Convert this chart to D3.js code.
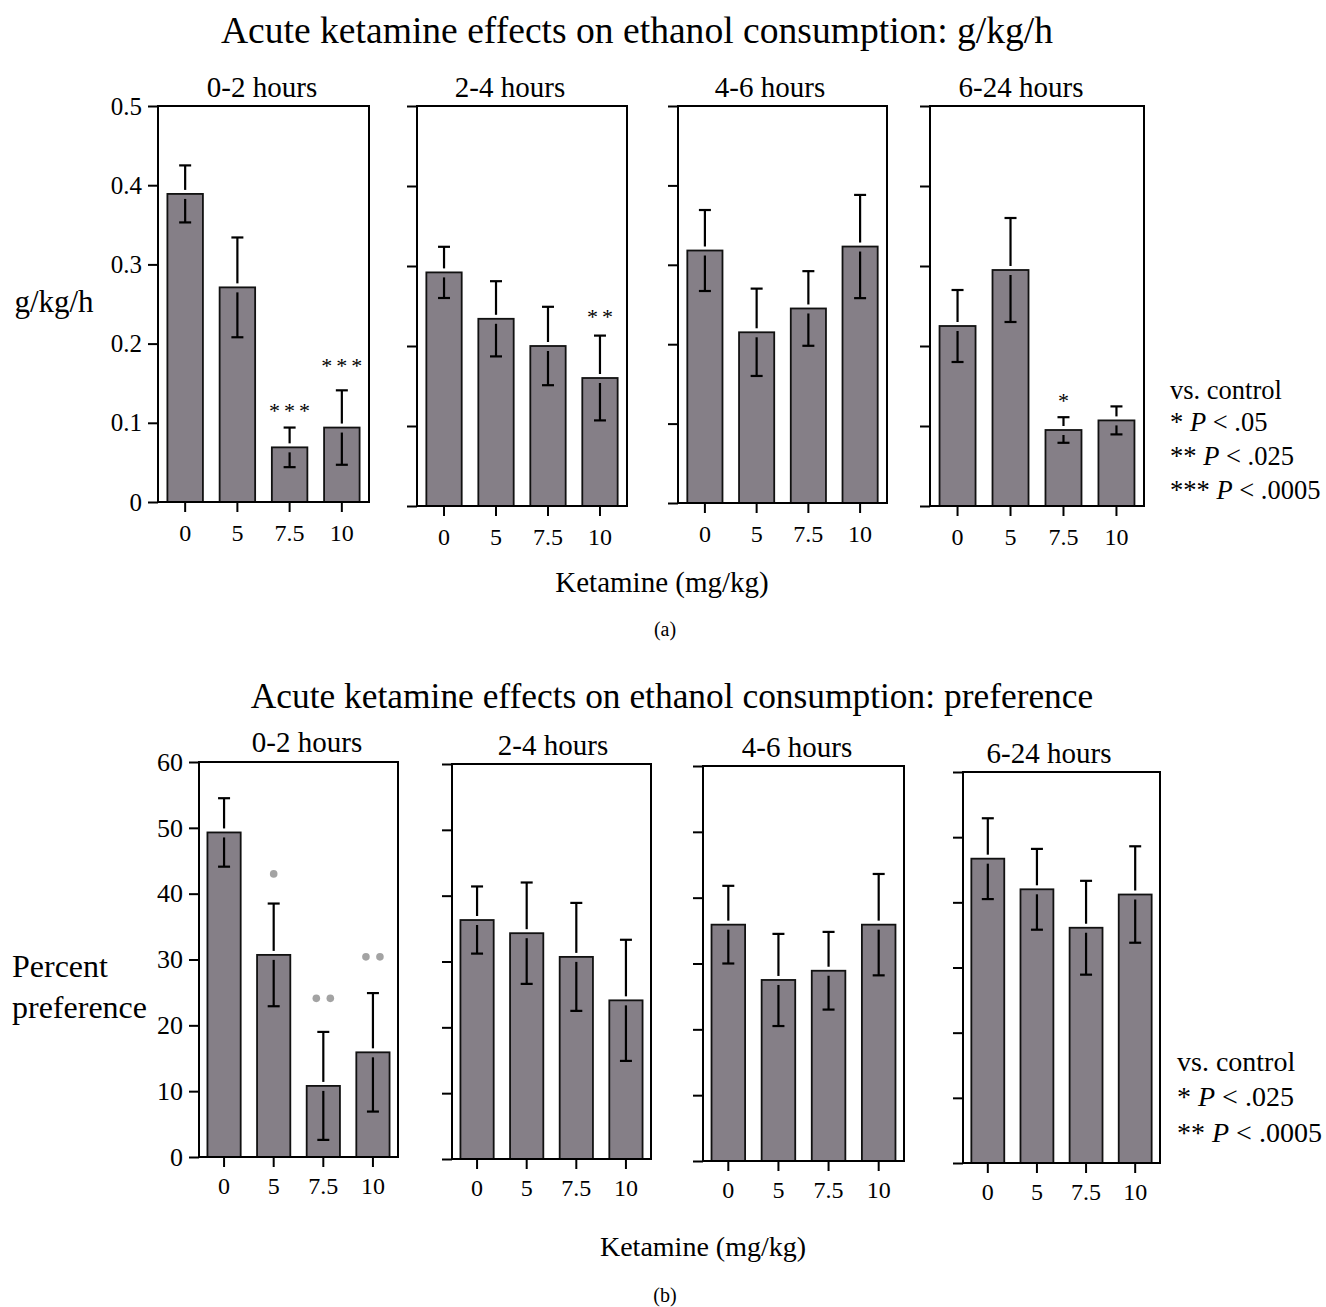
<!DOCTYPE html>
<html><head><meta charset="utf-8">
<script src="https://cdn.jsdelivr.net/npm/d3@7"></script>
<style>
body{margin:0;background:#fff}
svg{display:block}
text{font-family:"Liberation Serif","Times New Roman",serif;fill:#000}
</style>
</head><body>
<svg id="c" width="1326" height="1307"></svg>
<script>
// ---------------- data ----------------
const doses = ["0", "5", "7.5", "10"];
const periods = ["0-2 hours", "2-4 hours", "4-6 hours", "6-24 hours"];

// (a) g/kg/h : mean and SEM per period (rows) and dose (cols)
const gkgMean = [
  [0.389, 0.271, 0.069, 0.094],
  [0.292, 0.234, 0.200, 0.160],
  [0.318, 0.215, 0.245, 0.323],
  [0.225, 0.295, 0.095, 0.107]
];
const gkgSem = [
  [0.036, 0.063, 0.025, 0.047],
  [0.032, 0.047, 0.049, 0.053],
  [0.051, 0.055, 0.047, 0.065],
  [0.045, 0.065, 0.016, 0.0175]
];
const gkgTicks = [0, 0.1, 0.2, 0.3, 0.4, 0.5];
const gkgStars = [
  { period: 0, dose: "7.5", label: "***", at: 0.119 },
  { period: 0, dose: "10", label: "***", at: 0.1755 },
  { period: 1, dose: "10", label: "**", at: 0.240 },
  { period: 3, dose: "7.5", label: "*", at: 0.135 }
];

// (b) percent preference
const prefMean = [
  [49.3, 30.7, 10.8, 15.9],
  [36.3, 34.3, 30.7, 24.1],
  [35.9, 27.5, 28.9, 35.9],
  [46.7, 42.0, 36.1, 41.2]
];
const prefSem = [
  [5.2, 7.8, 8.2, 9.0],
  [5.1, 7.7, 8.2, 9.2],
  [5.9, 7.0, 5.9, 7.7],
  [6.2, 6.2, 7.2, 7.4]
];
const prefTicks = [0, 10, 20, 30, 40, 50, 60];
const prefStars = [
  { period: 0, dose: "5", count: 1, at: 43.0 },
  { period: 0, dose: "7.5", count: 2, at: 24.1 },
  { period: 0, dose: "10", count: 2, at: 30.4 }
];

const legendA = [["*", " < .05"], ["**", " < .025"], ["***", " < .0005"]];
const legendB = [["*", " < .025"], ["**", " < .0005"]];

// ---------------- layout ----------------
const FONT = "'Liberation Serif','Times New Roman',serif";
const FILL = "#857f87";
const svg = d3.select("#c");

const panelsA = [
  { x0: 158, x1: 369, y0: 106, y1: 502, tx: 262, ty: 97 },
  { x0: 417, x1: 627, y0: 106, y1: 506, tx: 510, ty: 97 },
  { x0: 678, x1: 887, y0: 106, y1: 503, tx: 770, ty: 97 },
  { x0: 930, x1: 1144, y0: 106, y1: 506, tx: 1021, ty: 97 }
];
const panelsB = [
  { x0: 199, x1: 398, y0: 762, y1: 1157, tx: 307, ty: 752 },
  { x0: 452, x1: 651, y0: 764, y1: 1159, tx: 553, ty: 755 },
  { x0: 703, x1: 904, y0: 766, y1: 1161, tx: 797, ty: 757 },
  { x0: 963, x1: 1160, y0: 772, y1: 1163, tx: 1049, ty: 763 }
];

function drawPanel(p, i, opts) {
  const g = svg.append("g");
  const x = d3.scaleBand().domain(doses).range([p.x0, p.x1])
    .paddingInner(opts.pi).paddingOuter(opts.po);
  const y = d3.scaleLinear().domain([0, opts.max]).range([p.y1, p.y0]);
  const means = opts.means[i], sems = opts.sems[i];
  const rows = doses.map((d, k) => ({ dose: d, m: means[k], s: sems[k] }));

  // bars
  g.selectAll("rect.bar").data(rows).join("rect")
    .attr("x", d => x(d.dose)).attr("width", x.bandwidth())
    .attr("y", d => y(d.m)).attr("height", d => y(0) - y(d.m))
    .attr("fill", FILL).attr("stroke", "#111").attr("stroke-width", 1.8);

  // error bars (split at the bar top)
  const eb = g.selectAll("g.eb").data(rows).join("g")
    .attr("stroke", "#000").attr("stroke-width", 2.2).attr("fill", "none");
  const cx = d => x(d.dose) + x.bandwidth() / 2;
  const cap = 6;
  eb.append("line").attr("x1", cx).attr("x2", cx)
    .attr("y1", d => y(d.m + d.s)).attr("y2", d => y(d.m) - 4);
  eb.append("line").attr("x1", cx).attr("x2", cx)
    .attr("y1", d => y(d.m) + 5).attr("y2", d => y(d.m - d.s));
  eb.append("line").attr("x1", d => cx(d) - cap).attr("x2", d => cx(d) + cap)
    .attr("y1", d => y(d.m + d.s)).attr("y2", d => y(d.m + d.s));
  eb.append("line").attr("x1", d => cx(d) - cap).attr("x2", d => cx(d) + cap)
    .attr("y1", d => y(d.m - d.s)).attr("y2", d => y(d.m - d.s));

  // frame
  g.append("rect").attr("x", p.x0).attr("y", p.y0)
    .attr("width", p.x1 - p.x0).attr("height", p.y1 - p.y0)
    .attr("fill", "none").attr("stroke", "#000").attr("stroke-width", 2);

  // y axis
  const ya = d3.axisLeft(y).tickValues(opts.ticks).tickSize(10).tickSizeOuter(0)
    .tickPadding(6).tickFormat(i === 0 ? opts.fmt : () => "");
  const yg = g.append("g").attr("transform", `translate(${p.x0},0)`).call(ya);
  yg.select(".domain").remove();
  yg.selectAll("line").attr("stroke", "#000").attr("stroke-width", 2);
  yg.selectAll("text").attr("font-family", FONT).attr("font-size", opts.yfs).attr("fill", "#000");

  // x axis
  const xa = d3.axisBottom(x).tickSize(10).tickSizeOuter(0).tickPadding(opts.xpad);
  const xg = g.append("g").attr("transform", `translate(0,${p.y1})`).call(xa);
  xg.select(".domain").remove();
  xg.selectAll("line").attr("stroke", "#000").attr("stroke-width", 2);
  xg.selectAll("text").attr("font-family", FONT).attr("font-size", opts.xfs).attr("fill", "#000");

  // panel title
  g.append("text").attr("x", p.tx).attr("y", p.ty).attr("text-anchor", "middle")
    .attr("font-size", 29).text(periods[i]);

  return { x, y, g };
}

// ---------------- (a) ----------------
svg.append("text").attr("x", 637).attr("y", 43).attr("text-anchor", "middle")
  .attr("font-size", 37.6).text("Acute ketamine effects on ethanol consumption: g/kg/h");

const scalesA = panelsA.map((p, i) => drawPanel(p, i, {
  pi: 0.32, po: 0.18, max: 0.5, means: gkgMean, sems: gkgSem, ticks: gkgTicks,
  fmt: d => d === 0 ? "0" : d3.format(".1f")(d), yfs: 25, xfs: 24, xpad: 12
}));

gkgStars.forEach(s => {
  const sc = scalesA[s.period];
  sc.g.append("text")
    .attr("x", sc.x(s.dose) + sc.x.bandwidth() / 2 + 2)
    .attr("y", sc.y(s.at) + 10)
    .attr("text-anchor", "middle").attr("font-size", 22)
    .attr("letter-spacing", 4).attr("fill", "#333")
    .text(s.label);
});

svg.append("text").attr("x", 54).attr("y", 312).attr("text-anchor", "middle")
  .attr("font-size", 31).text("g/kg/h");
svg.append("text").attr("x", 662).attr("y", 592).attr("text-anchor", "middle")
  .attr("font-size", 29).text("Ketamine (mg/kg)");
svg.append("text").attr("x", 665).attr("y", 636).attr("text-anchor", "middle")
  .attr("font-size", 20).text("(a)");

const legA = svg.append("g").attr("font-size", 26.5);
legA.append("text").attr("x", 1170).attr("y", 399).text("vs. control");
legendA.forEach((l, k) => {
  const t = legA.append("text").attr("x", 1170).attr("y", 431 + k * 34);
  t.append("tspan").text(l[0] + " ");
  t.append("tspan").attr("font-style", "italic").text("P");
  t.append("tspan").text(l[1]);
});

// ---------------- (b) ----------------
svg.append("text").attr("x", 672).attr("y", 708).attr("text-anchor", "middle")
  .attr("font-size", 35.4).text("Acute ketamine effects on ethanol consumption: preference");

const scalesB = panelsB.map((p, i) => drawPanel(p, i, {
  pi: 0.33, po: 0.17, max: 60, means: prefMean, sems: prefSem, ticks: prefTicks,
  fmt: d3.format("d"), yfs: 26, xfs: 24, xpad: 10
}));

prefStars.forEach(s => {
  const sc = scalesB[s.period];
  const c = sc.x(s.dose) + sc.x.bandwidth() / 2;
  const offs = s.count === 1 ? [0] : [-7, 7];
  offs.forEach(o => {
    sc.g.append("circle").attr("cx", c + o).attr("cy", sc.y(s.at))
      .attr("r", 3.8).attr("fill", "#a3a3a3");
  });
});

svg.append("text").attr("x", 12).attr("y", 977).attr("font-size", 32).text("Percent");
svg.append("text").attr("x", 12).attr("y", 1018).attr("font-size", 32).text("preference");
svg.append("text").attr("x", 703).attr("y", 1256).attr("text-anchor", "middle")
  .attr("font-size", 28).text("Ketamine (mg/kg)");
svg.append("text").attr("x", 665).attr("y", 1302).attr("text-anchor", "middle")
  .attr("font-size", 20).text("(b)");

const legB = svg.append("g").attr("font-size", 28);
legB.append("text").attr("x", 1177).attr("y", 1071).text("vs. control");
legendB.forEach((l, k) => {
  const t = legB.append("text").attr("x", 1177).attr("y", 1106 + k * 36);
  t.append("tspan").text(l[0] + " ");
  t.append("tspan").attr("font-style", "italic").text("P");
  t.append("tspan").text(l[1]);
});
</script>
</body></html>
